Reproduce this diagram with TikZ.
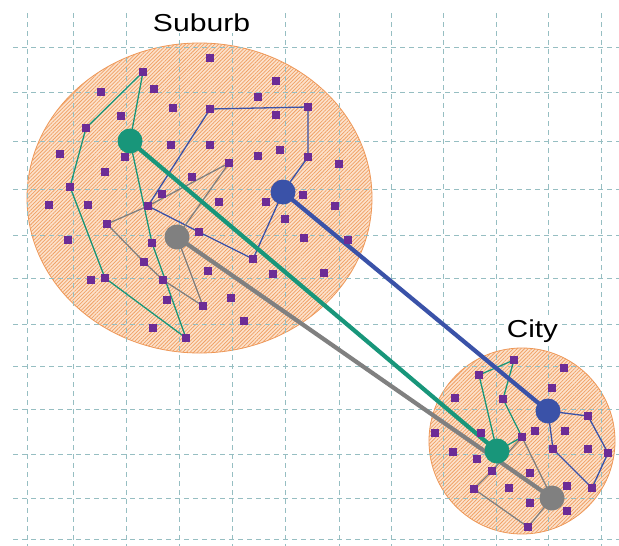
\documentclass[tikz,border=0pt]{standalone}
\usepackage{fontspec}
\setmainfont{Liberation Sans}
\usetikzlibrary{patterns.meta}
\definecolor{sqpurple}{RGB}{108,44,150}
\definecolor{tealc}{RGB}{24,150,122}
\definecolor{bluec}{RGB}{58,82,168}
\definecolor{grayc}{RGB}{128,128,128}
\definecolor{peach}{RGB}{252,226,204}
\definecolor{hatch}{RGB}{240,160,100}
\definecolor{rim}{RGB}{238,150,85}
\definecolor{gridc}{RGB}{150,190,194}
\pgfdeclarelayer{back}
\pgfdeclarelayer{lines}
\pgfsetlayers{back,lines,main}
\begin{document}
\begin{tikzpicture}[x=1pt,y=-1pt,
  sq/.style={rectangle,fill=sqpurple,minimum size=7.8pt,inner sep=0pt},
  depot/.style={circle,minimum size=25pt,inner sep=0pt},
  tour/.style={line width=1.3pt,line join=round},
  link/.style={line width=4.2pt},
  region/.style={fill=peach,draw=rim,line width=0.8pt},
  hatchfill/.style={pattern={Lines[angle=45,distance=2.6pt,line width=0.75pt]},pattern color=hatch},
  gridline/.style={draw=gridc,line width=0.85pt,dash pattern=on 5pt off 4pt},
  lbl/.style={font=\fontsize{24.5}{28}\selectfont,fill=white,inner sep=2pt,anchor=base}
]
\useasboundingbox (0,0) rectangle (619,546);
\begin{pgfonlayer}{back}
\fill[white] (0,0) rectangle (619,546);
% regions
\path[region] (199.5,198) ellipse [x radius=172.5pt, y radius=155pt];
\path[hatchfill] (199.5,198) ellipse [x radius=172.5pt, y radius=155pt];
\path[region] (522,441) circle [radius=93pt];
\path[hatchfill] (522,441) circle [radius=93pt];
% grid
\foreach \gy in {47,92,141,189,235,278,324,366,409,454,498,539}
  \draw[gridline] (13,\gy) -- (619,\gy);
\foreach \gx in {27,73,126,179,232,285,339,391,443,496,548,601}
  \draw[gridline] (\gx,13) -- (\gx,546);
\end{pgfonlayer}

% labels
\node[lbl] (suburb) at (201.5,31) {\scalebox{1.23}[1]{Suburb}};
\node[lbl] (city) at (532.5,337) {\scalebox{1.21}[1]{City}};

% depots
\node[depot,fill=tealc] (dT) at (130,141) {};
\node[depot,fill=bluec] (dB) at (283,192) {};
\node[depot,fill=grayc] (dG) at (177,237) {};
\node[depot,fill=tealc] (cT) at (497,451) {};
\node[depot,fill=bluec] (cB) at (548,411) {};
\node[depot,fill=grayc] (cG) at (552,498) {};

% tour vertices (suburb)
\node[sq] (t1) at (143,72) {};
\node[sq] (t2) at (86,128) {};
\node[sq] (t3) at (70,187) {};
\node[sq] (t4) at (105,278) {};
\node[sq] (t5) at (186,338) {};
\node[sq] (t6) at (152,243) {};
\node[sq] (b1) at (308,157) {};
\node[sq] (b2) at (308,107) {};
\node[sq] (b3) at (210,109) {};
\node[sq] (b4) at (148,206) {};
\node[sq] (b5) at (199,232) {};
\node[sq] (b6) at (253,259) {};
\node[sq] (g1) at (229,163) {};
\node[sq] (g2) at (107,224) {};
\node[sq] (g3) at (144,262) {};
\node[sq] (g4) at (163,280) {};
\node[sq] (g5) at (203,306) {};
% tour vertices (city)
\node[sq] (u1) at (479,375) {};
\node[sq] (u2) at (514,360) {};
\node[sq] (u3) at (503,399) {};
\node[sq] (u4) at (522,437) {};
\node[sq] (v1) at (588,416) {};
\node[sq] (v2) at (608,453) {};
\node[sq] (v3) at (592,488) {};
\node[sq] (v4) at (553,449) {};
\node[sq] (w1) at (492,471) {};
\node[sq] (w2) at (474,489) {};
\node[sq] (w3) at (528,527) {};

% other customers
\foreach \x/\y [count=\i] in {210/58,101/92,154/89,173/108,121/116,60/154,171/145,210/145,
  125/157,105/172,192/177,162/194,49/205,88/205,219/202,276/81,258/97,276/115,280/150,
  258/156,339/164,303/195,266/202,335/206,285/219,68/240,208/271,91/280,167/300,153/328,
  304/238,348/240,273/274,324/273,231/298,244/321,
  564/368,552/388,455/398,435/433,481/433,535/431,565/431,453/452,588/449,477/459,
  530/473,509/488,567/486,530/503,567/511}
  \node[sq] (s\i) at (\x,\y) {};

\begin{pgfonlayer}{lines}
% suburb tours
\draw[tour,tealc] (dT.center) -- (t1.center) -- (t2.center) -- (t3.center) -- (t4.center)
  -- (t5.center) -- (t6.center) -- cycle;
\draw[tour,bluec] (dB.center) -- (b1.center) -- (b2.center) -- (b3.center) -- (b4.center)
  -- (b5.center) -- (b6.center) -- cycle;
\draw[tour,grayc] (dG.center) -- (g1.center) -- (b4.center) -- (g2.center) -- (g3.center)
  -- (g4.center) -- (g5.center) -- cycle;
% city tours
\draw[tour,tealc] (cT.center) -- (u1.center) -- (u2.center) -- (u3.center) -- (u4.center) -- cycle;
\draw[tour,bluec] (cB.center) -- (v1.center) -- (v2.center) -- (v3.center) -- (v4.center) -- cycle;
\draw[tour,grayc] (cG.center) -- (u4.center) -- (w1.center) -- (w2.center) -- (w3.center) -- cycle;
% links
\draw[link,bluec] (dB.center) -- (cB.center);
\draw[link,tealc] (dT.center) -- (cT.center);
\draw[link,grayc] (dG.center) -- (cG.center);
\end{pgfonlayer}
\end{tikzpicture}
\end{document}
